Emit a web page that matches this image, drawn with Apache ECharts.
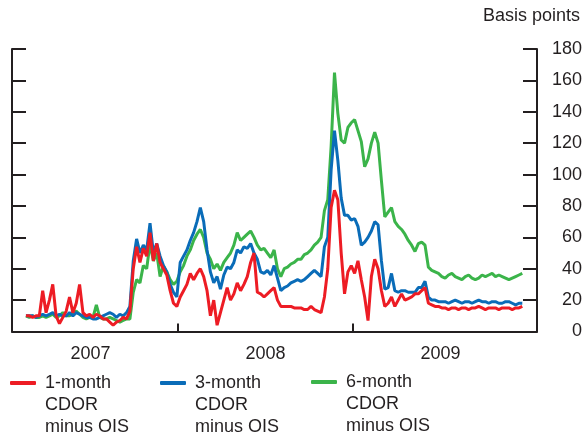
<!DOCTYPE html>
<html>
<head>
<meta charset="utf-8">
<script src="https://cdn.jsdelivr.net/npm/echarts@6/dist/echarts.min.js"></script>
<style>
  html, body { margin: 0; padding: 0; background: #fff; }
  #chart { width: 584px; height: 439px; }
</style>
</head>
<body>
<div id="chart"></div>
<script>
// weekly observations, first one mid-Feb 2007 (x in decimal years)
const firstWeek = 2007.131;
const weekStep = 7 / 365.25;

const oneMonth = [
  10, 10, 9, 10, 10, 26, 12, 20, 30, 10,
  5, 9, 13, 22, 12, 18, 30, 12, 10, 11,
  9, 11, 10, 8, 8, 6, 4, 6, 7, 9,
  8, 13, 40, 54, 44, 53, 48, 63, 45, 56,
  44, 40, 36, 26, 18, 16, 22, 26, 30, 37,
  33, 37, 40, 35, 26, 10, 20, 4, 12, 20,
  28, 20, 24, 31, 26, 30, 35, 44, 50, 25,
  24, 22, 24, 26, 28, 20, 16, 16, 16, 16,
  15, 15, 15, 14, 14, 16, 14, 13, 12, 22,
  40, 79, 90, 84, 50, 24, 38, 42, 37, 45,
  33, 22, 7, 35, 46, 40, 26, 16, 18, 22,
  16, 20, 24, 20, 21, 22, 24, 24, 26, 28,
  18, 17, 16, 16, 15,
  15, 14, 15, 15, 14, 15, 15, 14, 15, 15, 16, 15,
  14, 15, 15, 15, 14, 15, 15, 15, 14, 15, 15, 16
];
const threeMonth = [
  10, 10, 10, 9, 10, 11, 10, 11, 12, 10,
  11, 10, 10, 12, 10, 12, 11, 10, 9, 9,
  8, 8, 9, 10, 11, 12, 11, 9, 11, 10,
  12, 16, 45, 59, 50, 55, 52, 69, 50, 56,
  48, 42, 38, 30, 25, 22, 44, 48, 52, 58,
  63, 70, 79, 70, 52, 38, 31, 35, 27, 36,
  41, 40, 44, 52, 50, 54, 53, 56, 50, 46,
  38, 37, 39, 36, 42, 34, 26, 28, 29, 31,
  32, 33, 32, 33, 35, 37, 39, 37, 35, 54,
  60, 103, 128, 109, 85, 74, 74, 71, 72, 67,
  55, 57, 60, 64, 70, 68, 45, 27, 28, 37,
  26, 25, 26, 26, 25, 25, 25, 28, 28, 32,
  22, 20, 20, 19, 19,
  19, 18, 19, 20, 19, 18, 19, 19, 18, 19, 20, 19,
  19, 18, 19, 19, 18, 18, 19, 19, 18, 17, 18, 18
];
const sixMonth = [
  10, 9, 10, 9, 9, 10, 9, 10, 11, 9,
  10, 12, 10, 10, 12, 13, 11, 9, 8, 9,
  9, 17, 9, 8, 8, 9, 8, 7, 6, 7,
  8, 8, 25, 33, 31, 42, 40, 56, 45, 50,
  35, 42, 38, 33, 30, 32, 38, 42, 48, 52,
  58, 62, 65, 60, 50, 46, 40, 43, 39, 44,
  47, 50, 55, 63, 58, 60, 62, 64, 60, 55,
  52, 53, 50, 47, 52, 40, 35, 40, 41, 43,
  44, 46, 46, 49, 50, 52, 55, 57, 60, 77,
  84, 118, 165, 139, 122, 120, 130, 133, 135, 128,
  121, 105, 110, 120, 127, 120, 96, 73, 76, 79,
  70, 67, 65, 62, 58, 55, 51, 56, 57, 55,
  41, 39, 38, 37, 35,
  34, 36, 37, 35, 34, 33, 35, 36, 34, 33, 34, 36,
  35, 36, 37, 35, 36, 35, 34, 33, 34, 35, 36, 37
];

const yearBreaks = [2008, 2009];
const yearLabelPos = [2007.5, 2008.5, 2009.5];

const names = ['1-month CDOR minus OIS', '3-month CDOR minus OIS', '6-month CDOR minus OIS'];
const colors = ['#ed1c24', '#0a6cb8', '#3bb44a'];

const font = 'Liberation Sans, Arial, sans-serif';
const ink = '#231f20';

function toPairs(vals) {
  return vals.map((v, i) => [firstWeek + i * weekStep, v]);
}

// two blank lines on top so the first text line sits beside the swatch
function legendFor(i, left, top) {
  return {
    left: left,
    top: top,
    padding: 0,
    icon: 'roundRect',
    itemWidth: 26,
    itemHeight: 4,
    data: [names[i]],
    formatter: (n) => '\n\n' + n.replace(' CDOR ', '\nCDOR\n'),
    textStyle: {
      fontFamily: font,
      fontSize: 18,
      lineHeight: 22,
      color: ink,
      padding: [0, 0, 0, 4]
    }
  };
}

const yAxisBase = {
  type: 'value',
  min: 0,
  max: 180,
  interval: 20,
  splitLine: { show: false },
  axisLine: { show: true, lineStyle: { color: ink, width: 2 } },
  axisTick: { show: true, inside: true, length: 14, lineStyle: { color: ink, width: 2 } }
};

const chart = echarts.init(document.getElementById('chart'));
chart.setOption({
  animation: false,
  title: {
    text: 'Basis points',
    right: 4,
    top: 7,
    padding: 0,
    textStyle: { fontFamily: font, fontSize: 18, fontWeight: 'normal', color: ink }
  },
  legend: [
    legendFor(0, 10, 328),
    legendFor(1, 160, 328),
    legendFor(2, 311, 327)
  ],
  grid: { left: 12, right: 47, top: 49, bottom: 107.5, containLabel: false, outerBoundsMode: 'none' },
  xAxis: {
    type: 'value',
    min: 2007.0514,
    max: 2010.0514,
    splitLine: { show: false },
    axisLine: { show: true, lineStyle: { color: ink, width: 2 } },
    axisTick: {
      show: true,
      inside: true,
      length: 8,
      customValues: yearBreaks,
      lineStyle: { color: ink, width: 2 }
    },
    axisLabel: {
      customValues: yearLabelPos,
      formatter: (v) => String(Math.floor(v)),
      margin: 14,
      fontFamily: font,
      fontSize: 18,
      color: ink
    }
  },
  yAxis: [
    Object.assign({}, yAxisBase, {
      position: 'right',
      axisLabel: {
        align: 'right',
        margin: 45,
        fontFamily: font,
        fontSize: 18,
        color: ink
      }
    }),
    Object.assign({}, yAxisBase, {
      position: 'left',
      axisLabel: { show: false }
    })
  ],
  series: [
    { name: names[2], type: 'line', data: toPairs(sixMonth), color: colors[2] },
    { name: names[1], type: 'line', data: toPairs(threeMonth), color: colors[1] },
    { name: names[0], type: 'line', data: toPairs(oneMonth), color: colors[0] }
  ].map((s) => Object.assign(s, {
    showSymbol: false,
    symbol: 'none',
    lineStyle: { width: 3, color: s.color },
    itemStyle: { color: s.color }
  }))
});
</script>
</body>
</html>
